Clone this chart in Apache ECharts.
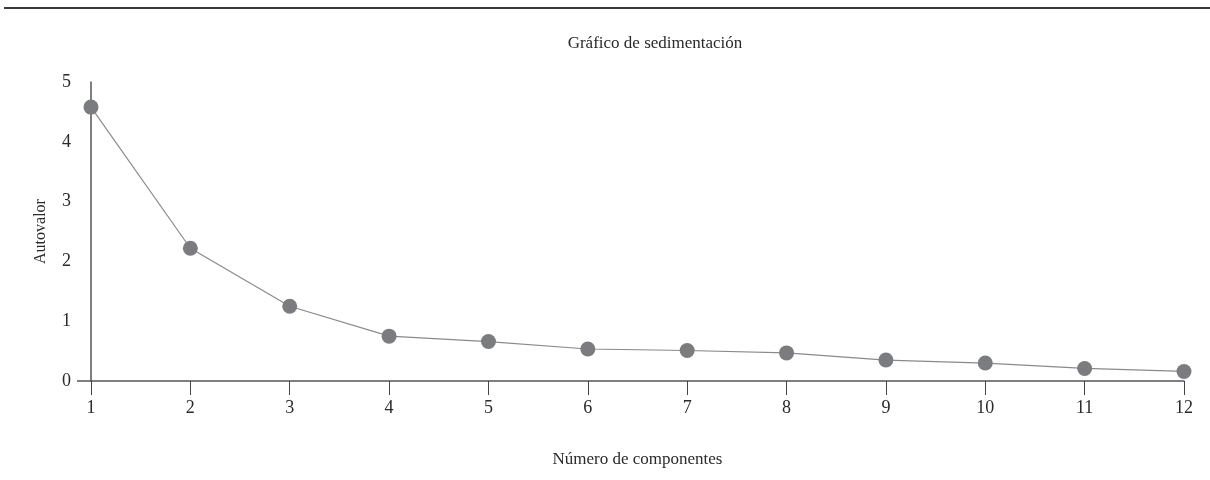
<!DOCTYPE html>
<html>
<head>
<meta charset="utf-8">
<script src="https://cdn.jsdelivr.net/npm/echarts@6/dist/echarts.min.js"></script>
<style>
html, body { margin: 0; padding: 0; background: #fff; }
#main { width: 1210px; height: 480px; }
</style>
</head>
<body>
<div id="main"></div>
<script>
// datos del gráfico de sedimentación
var componentes = ['1', '2', '3', '4', '5', '6', '7', '8', '9', '10', '11', '12'];
var autovalores = [4.58, 2.22, 1.25, 0.75, 0.66, 0.535, 0.51, 0.47, 0.35, 0.30, 0.21, 0.16];
var yTicks = [0, 1, 2, 3, 4, 5];

var myChart = echarts.init(document.getElementById('main'));
var fontFam = '"Liberation Serif", "DejaVu Serif", serif';

var option = {
	animation : false,
	title : {
		text : 'Gráfico de sedimentación',
		left : 650,
		textAlign : 'center',
		top : 30,
		textStyle : {
			fontFamily : fontFam,
			fontWeight : 'normal',
			fontSize : 17,
			color : '#2a2a2a'
		}
	},
	graphic : [ {
		type : 'rect',
		shape : { x : 4, y : 7, width : 1206, height : 2 },
		style : { fill : '#3a3a3a' }
	}, {
		// prolongación del eje x a la izquierda del eje y
		type : 'line',
		shape : { x1 : 77, y1 : 381, x2 : 91, y2 : 381 },
		style : { stroke : '#555', lineWidth : 1.5 }
	} ],
	grid : {
		left : 91,
		right : 26,
		top : 82,
		bottom : 99
	},
	xAxis : {
		type : 'category',
		data : componentes,
		boundaryGap : false,
		name : 'Número de componentes',
		nameLocation : 'middle',
		nameGap : 70,
		nameTextStyle : {
			fontFamily : fontFam,
			fontSize : 17,
			color : '#2a2a2a'
		},
		axisLine : {
			lineStyle : { color : '#555', width : 1.5 }
		},
		axisTick : {
			length : 14,
			lineStyle : { color : '#444', width : 1 }
		},
		axisLabel : {
			margin : 18,
			fontFamily : fontFam,
			fontSize : 18,
			color : '#2a2a2a'
		}
	},
	yAxis : {
		type : 'value',
		min : 0,
		max : 5,
		interval : 1,
		name : 'Autovalor',
		nameLocation : 'middle',
		nameRotate : 90,
		nameGap : 42,
		nameTextStyle : {
			fontFamily : fontFam,
			fontSize : 16,
			color : '#2a2a2a'
		},
		axisLine : {
			show : true,
			lineStyle : { color : '#555', width : 1.5 }
		},
		axisTick : { show : false },
		splitLine : { show : false },
		axisLabel : {
			margin : 20,
			fontFamily : fontFam,
			fontSize : 18,
			color : '#2a2a2a',
			formatter : function(v) {
				return yTicks.indexOf(v) >= 0 ? String(v) : '';
			}
		}
	},
	series : [ {
		type : 'line',
		data : autovalores,
		symbol : 'circle',
		symbolSize : 15,
		itemStyle : { color : '#7b7c80' },
		lineStyle : { color : '#8a8a8a', width : 1.2 }
	} ]
};

myChart.setOption(option);
window.onresize = myChart.resize;
</script>
</body>
</html>
